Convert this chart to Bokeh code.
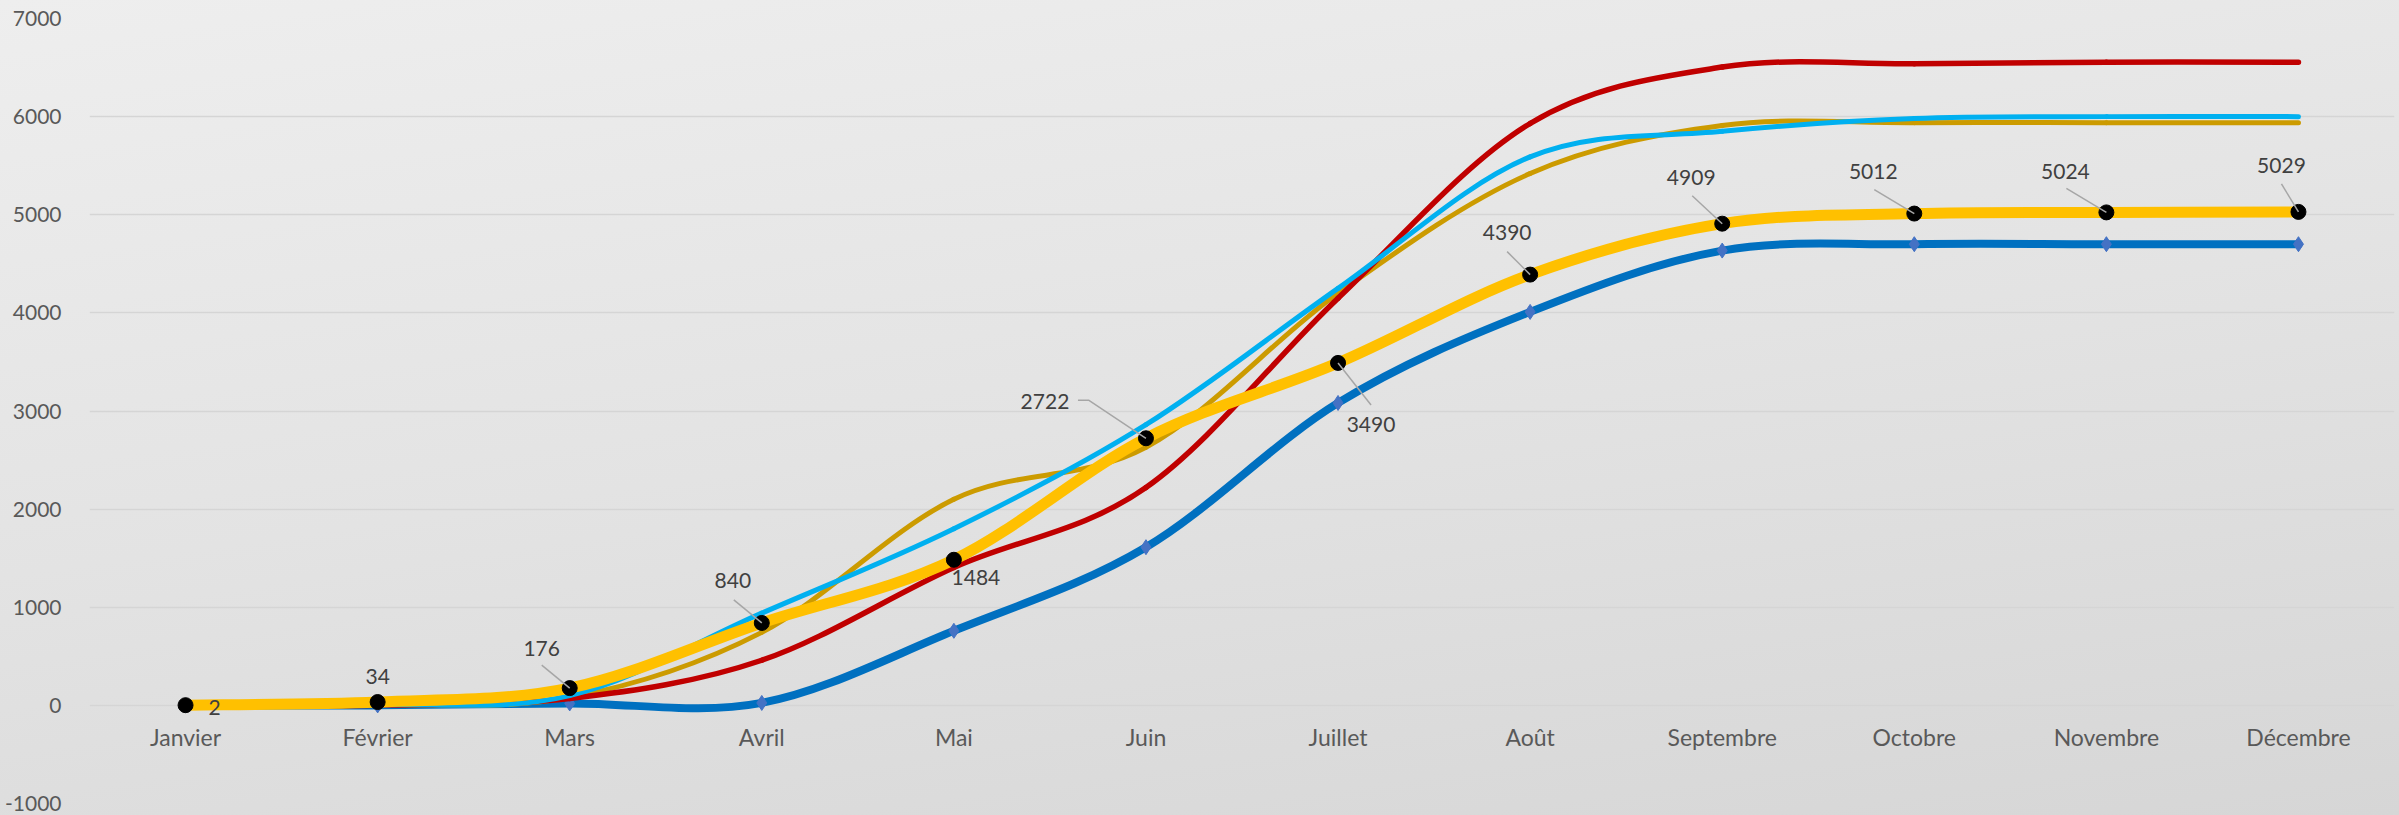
import numpy as np
from bokeh.plotting import figure
from bokeh.models import Range1d, FixedTicker, ColumnDataSource
from bokeh.core.properties import value
from bokeh.embed import file_html
from bokeh.resources import INLINE

# ---------------- data ----------------
months = ["Janvier", "Février", "Mars", "Avril", "Mai", "Juin", "Juillet",
          "Août", "Septembre", "Octobre", "Novembre", "Décembre"]
serie_jaune = [2, 34, 176, 840, 1484, 2722, 3490, 4390, 4909, 5012, 5024, 5029]
serie_bleue = [0, 0, 20, 25, 760, 1612, 3082, 4010, 4635, 4700, 4700, 4700]
serie_rouge = [0, 0, 70, 460, 1405, 2220, 4150, 5930, 6505, 6540, 6555, 6555]
serie_cyan = [0, 5, 100, 940, 1800, 2860, 4250, 5590, 5850, 5980, 6000, 6000]
serie_or = [0, 5, 80, 744, 2100, 2630, 4200, 5420, 5910, 5938, 5938, 5938]
y_ticks = [-1000, 0, 1000, 2000, 3000, 4000, 5000, 6000, 7000]

# ---------------- layout (pixels) ----------------
W, H = 2399, 815
BL, BR, BT, BB = 89, 5, 18, 12
FW, FH = W - BL - BR, H - BT - BB
XMIN, XMAX, YMIN, YMAX = -0.5, 11.5, -1000, 7000
PX_X = FW / (XMAX - XMIN)
PX_Y = FH / (YMAX - YMIN)

FONT = "Lato"
p = figure(width=W, height=H, output_backend="svg", toolbar_location=None,
           x_range=Range1d(XMIN, XMAX), y_range=Range1d(YMIN, YMAX),
           min_border_left=BL, min_border_right=BR, min_border_top=BT, min_border_bottom=BB)
p.border_fill_color = None
p.background_fill_color = None
p.outline_line_color = None
p.xaxis.visible = False
p.xgrid.grid_line_color = None
p.ygrid.ticker = FixedTicker(ticks=y_ticks)
p.ygrid.grid_line_color = "#d5d5d5"
p.ygrid.grid_line_width = 1.5
yax = p.yaxis[0]
yax.ticker = FixedTicker(ticks=y_ticks)
yax.major_label_overrides = {t: str(t) for t in y_ticks}
yax.axis_line_color = None
yax.major_tick_line_color = None
yax.minor_tick_line_color = None
yax.major_label_text_font = FONT
yax.major_label_text_font_size = "21px"
yax.major_label_text_color = "#595959"
yax.major_label_standoff = 22

xs = list(range(len(months)))


def smooth(x, y):
    """Excel-like smoothed line: cubic Bezier segments (Catmull-Rom control points)."""
    x = np.asarray(x, float)
    y = np.asarray(y, float)
    n = len(x)
    d = dict(x0=[], y0=[], x1=[], y1=[], cx0=[], cy0=[], cx1=[], cy1=[])
    for i in range(n - 1):
        im = max(i - 1, 0)
        ip2 = min(i + 2, n - 1)
        d["x0"].append(x[i]); d["y0"].append(y[i])
        d["x1"].append(x[i + 1]); d["y1"].append(y[i + 1])
        d["cx0"].append(x[i] + (x[i + 1] - x[im]) / 6.0)
        d["cy0"].append(y[i] + (y[i + 1] - y[im]) / 6.0)
        d["cx1"].append(x[i + 1] - (x[ip2] - x[i]) / 6.0)
        d["cy1"].append(y[i + 1] - (y[ip2] - y[i]) / 6.0)
    return ColumnDataSource(d)


def draw(series, color, width):
    p.bezier(x0="x0", y0="y0", x1="x1", y1="y1", cx0="cx0", cy0="cy0",
             cx1="cx1", cy1="cy1", source=smooth(xs, series),
             line_color=color, line_width=width, line_cap="round")


draw(serie_bleue, "#0070C0", 8)
p.scatter(xs, serie_bleue, marker="diamond", size=15, fill_color="#4472C4", line_color="#4472C4")
draw(serie_or, "#CC9B00", 5)
draw(serie_rouge, "#C00000", 5.5)
draw(serie_cyan, "#00B0F0", 5)
draw(serie_jaune, "#FFC000", 11)
p.scatter(xs, serie_jaune, marker="circle", size=15, fill_color="#000000", line_color="#000000")

# month labels at the zero line
p.text(x=xs, y=[0] * len(xs), text=months, y_offset=32, text_align="center",
       text_baseline="middle", text_font=value(FONT), text_font_size="23px",
       text_color="#595959")

# data labels of the yellow series (offsets in screen pixels)
lab_dx = [29, 0, -28, -29, 22, -101, 33, -23, -31, -41, -41, -17]
lab_dy = [2, -26, -40, -42, 18, -37, 62, -42, -46, -42, -41, -46]
p.text(x=xs, y=serie_jaune, text=[str(v) for v in serie_jaune], x_offset=lab_dx, y_offset=lab_dy,
       text_align="center", text_baseline="middle", text_font=value(FONT),
       text_font_size="21px", text_color="#404040")

# leader lines (pixel offsets from the point, converted through the scales)
leaders = {
    2: [(-28, -23), (0, 0)],
    3: [(-28, -23), (0, 0)],
    5: [(-68, -38), (-57, -38), (0, 0)],
    6: [(0, 0), (33, 42)],
    7: [(-23, -23), (0, 0)],
    8: [(-30, -28), (0, 0)],
    9: [(-40, -24), (0, 0)],
    10: [(-40, -24), (0, 0)],
    11: [(-17, -28), (0, 0)],
}
lx, ly = [], []
for i, pts in leaders.items():
    lx.append([xs[i] + dx / PX_X for dx, dy in pts])
    ly.append([serie_jaune[i] - dy / PX_Y for dx, dy in pts])
p.multi_line(lx, ly, line_color="#A6A6A6", line_width=1.5)

html = file_html(p, INLINE)
style = ("<style>html{background:linear-gradient(172deg,#eeeeee 0%,#e3e3e3 50%,#d6d6d6 100%);"
         "min-height:100%;}body{background:transparent;}</style></head>")
html = html.replace("</head>", style, 1)
open("out.html", "w").write(html)
